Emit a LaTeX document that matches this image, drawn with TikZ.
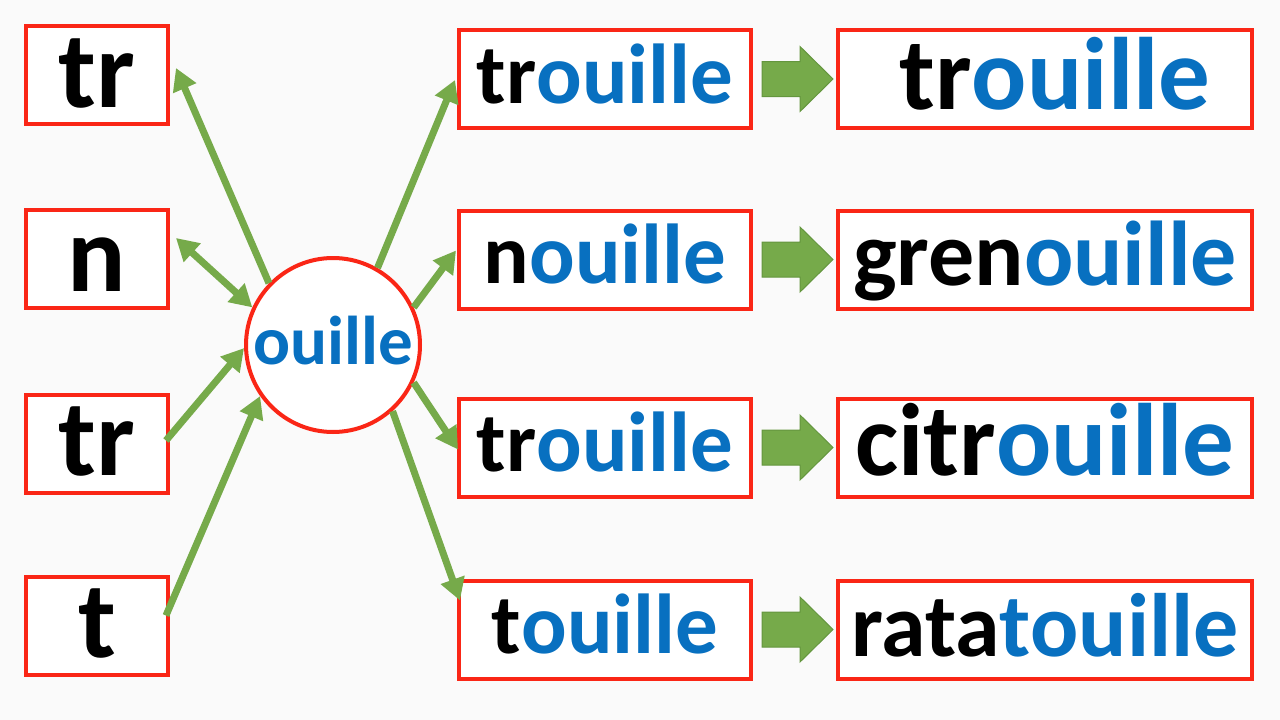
\documentclass[tikz,border=0pt]{standalone}
\usepackage{fontspec}
\setmainfont{Carlito}
\usetikzlibrary{arrows.meta,calc}
\definecolor{boxred}{RGB}{250,38,22}
\definecolor{wblue}{RGB}{8,112,192}
\definecolor{agreen}{RGB}{118,170,74}
\definecolor{agreendark}{RGB}{100,150,62}
\definecolor{bgc}{RGB}{250,250,250}
\newcommand{\bl}[1]{\textcolor{wblue}{#1}}
\begin{document}
\begin{tikzpicture}[x=1pt,y=-1pt,
  wbox/.style={draw=boxred, line width=4pt, fill=white, rectangle, inner sep=0pt, text depth=0pt},
  lbox/.style={wbox, minimum width=142pt, minimum height=98pt, font=\bfseries\fontsize{109}{109}\selectfont, text height=64pt},
  mbox/.style={wbox, minimum width=292pt, minimum height=98pt, font=\bfseries\fontsize{85}{85}\selectfont, text height=48pt},
  rbox/.style={wbox, minimum width=414pt, minimum height=98pt},
  rf/.style={font=\bfseries\fontsize{#1}{#1}\selectfont},
  hub/.style={draw=boxred, line width=4pt, fill=white, circle, inner sep=0pt, minimum size=174pt, font=\bfseries\fontsize{69}{69}\selectfont, text height=38pt, text depth=0pt},
  link/.style={draw=agreen, line width=7pt, -{Triangle[length=22pt,width=24pt]}},
  dlink/.style={draw=agreen, line width=7pt, {Triangle[length=22pt,width=24pt]}-{Triangle[length=22pt,width=24pt]}},
  blk/.style={fill=agreen, draw=agreendark, line width=1pt, line join=miter}
]
\fill[bgc] (0,0) rectangle (1280,720);
\useasboundingbox (0,0) rectangle (1280,720);

% left boxes
\node[lbox] (L1) at (97,75) {tr};
\node[lbox] (L2) at (97,259) {n};
\node[lbox] (L3) at (97,443.5) {tr};
\node[lbox] (L4) at (97,625.5) {t};

% hub
\node[hub] (C) at (333,345) {\bl{ouille}};

% middle boxes
\node[mbox] (M1) at (605,79) {tr\bl{ouille}};
\node[mbox] (M2) at (605,259.5) {n\bl{ouille}};
\node[mbox] (M3) at (605,447.5) {tr\bl{ouille}};
\node[mbox] (M4) at (605,629.5) {t\bl{ouille}};

% right boxes
\node[rbox, rf=103, text height=60pt] (R1) at (1045,79) {\hspace*{20pt}tr\bl{ouille}};
\node[rbox, rf=92, text height=52pt] (R2) at (1045,259.5) {gren\bl{ouille}};
\node[rbox, rf=103, text height=56pt] (R3) at (1045,447.5) {citr\bl{ouille}};
\node[rbox, rf=90, text height=54pt] (R4) at (1045,629.5) {rata\bl{touille}};

% left connectors
\draw[link] (C.136) -- ($(L1.east)+(6,-7)$);
\draw[dlink] ($(L2.east)+(6,-21)$) -- (C.155);
\draw[link] ($(L3.east)+(-4,-3)$) -- (C.182);
\draw[link] ($(L4.east)+(-4,-10)$) -- (C.215);

% right connectors
\draw[link] (C.60) -- ($(M1.west)+(-2,1)$);
\draw[link] (C.25) -- ($(M2.west)+(-1,-9)$);
\draw[link] (C.-25) -- ($(M3.west)+(1,2)$);
\draw[link] (C.-48) -- ($(M4.west)+(3,-29)$);

% block arrows
\foreach \i in {1,2,3,4}{
  \fill[blk] ($(M\i.east)+(9,-17.5)$) -- ++(38,0) -- ++(0,-15) -- ++(33,32.5) -- ++(-33,32.5) -- ++(0,-15) -- ++(-38,0) -- cycle;
}
\end{tikzpicture}
\end{document}
